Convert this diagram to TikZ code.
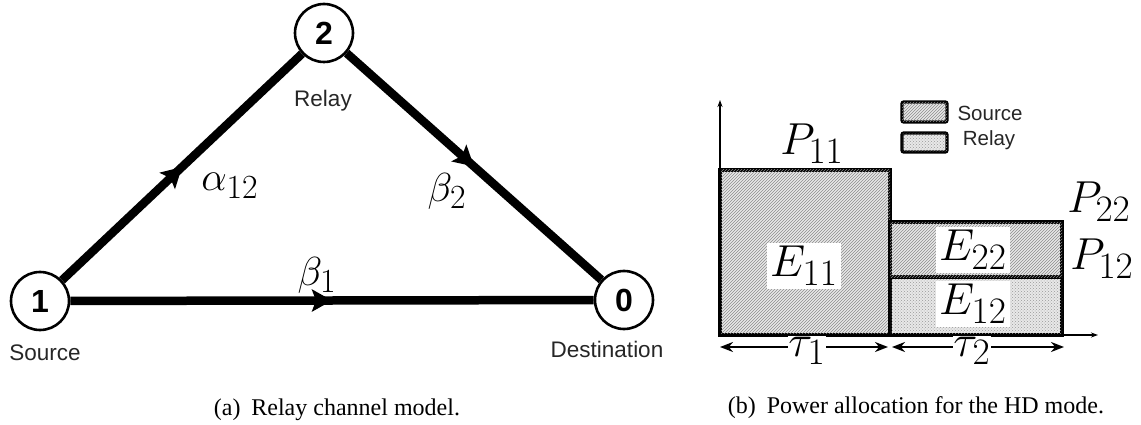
\documentclass[tikz,border=0pt]{standalone}
\usepackage[no-math]{fontspec}
\setmainfont{Liberation Serif}
\newfontfamily\arialf{Liberation Sans}
\usetikzlibrary{arrows.meta,decorations.markings,patterns}
\tikzset{
  circ/.style={circle, draw, line width=2.6pt, minimum size=58pt, inner sep=0pt,
    font=\arialf\bfseries\fontsize{32}{32}\selectfont},
  lbl/.style={font=\arialf\fontsize{22.5}{22.5}\selectfont, text=black!85, inner sep=0pt},
  mlbl/.style={font=\Huge, scale=1.63, inner sep=0pt},
  blbl/.style={font=\Huge, scale=1.8, inner sep=0pt},
  edge/.style={line width=8.5pt, postaction={decorate}, decoration={markings,
    mark=at position 0.5 with {\arrow{Stealth[length=20pt,width=22pt,inset=4pt]}}}},
  axisline/.style={line width=1.4pt, -{Stealth[length=7pt,width=5pt]}},
  boxline/.style={line width=3.4pt},
  srcfill/.style={fill=gray!18, postaction={pattern=north east lines, pattern color=gray!90}},
  relfill/.style={fill=gray!18, postaction={pattern=crosshatch dots, pattern color=gray!80}},
  tauarr/.style={line width=2.8pt, {Stealth[length=13pt,width=10pt]}-{Stealth[length=13pt,width=10pt]}},
  whitebg/.style={fill=white, inner sep=1.7pt},
  captext/.style={font=\fontsize{24}{24}\selectfont, inner sep=0pt}
}
\begin{document}
\begin{tikzpicture}[x=1pt,y=-1pt]
\useasboundingbox (0,0) rectangle (1141,425);
% ---------- (a) relay channel ----------
\node[circ] (n1) at (40,301) {1};
\node[circ] (n2) at (324,33) {2};
\node[circ] (n0) at (624,300) {0};
\draw[edge] (n1) -- (n2);
\draw[edge] (n2) -- (n0);
\draw[edge] (n1) -- (n0);
\node[lbl] (ls) at (45,353) {Source};
\node[lbl] (lr) at (323,101) {Relay};
\node[lbl] (ld) at (607,349) {Destination};
\node[mlbl] (a12) at (230,186) {$\alpha_{12}$};
\node[mlbl] (b1) at (317,275) {$\beta_1$};
\node[mlbl] (b2) at (447,191) {$\beta_2$};
\node[captext] (capa) at (337,410) {(a)\hspace{0.45em}Relay channel model.};
% ---------- (b) power allocation ----------
\coordinate (O) at (720,335);
\coordinate (ytop) at (720,100);
\coordinate (xend) at (1098,335);
\draw[boxline, srcfill] (720,170) rectangle (890,335);
\draw[boxline, relfill] (890,277) rectangle (1062,335);
\draw[boxline, srcfill] (890,222) rectangle (1062,277);
\draw[axisline] (O) -- (ytop);
\draw[axisline] (O) -- (xend);
\node[blbl, whitebg] (e11) at (804,266) {$E_{11}$};
\node[blbl, whitebg] (e22) at (973,250) {$E_{22}$};
\node[blbl, whitebg] (e12) at (973,304) {$E_{12}$};
\node[blbl] (p11) at (812,144) {$P_{11}$};
\node[blbl] (p22) at (1099,202) {$P_{22}$};
\node[blbl] (p12) at (1102,259) {$P_{12}$};
% legend
\draw[boxline, srcfill, rounded corners=2pt] (902,102) rectangle (947,122);
\draw[boxline, relfill, rounded corners=2pt] (902,133) rectangle (947,152);
\node[lbl, font=\arialf\fontsize{20.5}{20.5}\selectfont] (lgs) at (990,113) {Source};
\node[lbl, font=\arialf\fontsize{20.5}{20.5}\selectfont] (lgr) at (989,140) {Relay};
% durations
\coordinate (t1a) at (720,347);
\coordinate (t1b) at (888,347);
\coordinate (t2a) at (892,347);
\coordinate (t2b) at (1064,347);
\draw[tauarr] (t1a) -- (t1b);
\draw[tauarr] (t2a) -- (t2b);
\node[blbl, fill=white, inner sep=0.5pt] (tau1) at (807,351) {$\tau_1$};
\node[blbl, fill=white, inner sep=0.5pt] (tau2) at (972,351) {$\tau_2$};
\node[captext] (capb) at (916,408) {(b)\hspace{0.45em}Power allocation for the HD mode.};
\end{tikzpicture}
\end{document}
